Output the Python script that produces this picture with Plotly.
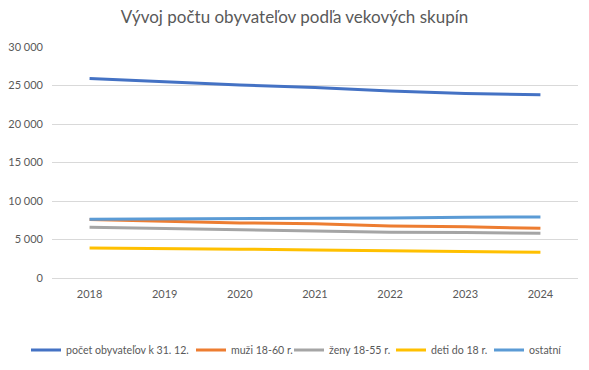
import plotly.graph_objects as go

years = ["2018", "2019", "2020", "2021", "2022", "2023", "2024"]
total = [25900, 25450, 25050, 24750, 24300, 23950, 23800]
muzi = [7600, 7400, 7150, 7050, 6750, 6650, 6450]
zeny = [6600, 6450, 6300, 6100, 5950, 5900, 5800]
deti = [3900, 3850, 3750, 3640, 3550, 3500, 3350]
ostatne = [7620, 7650, 7750, 7780, 7800, 7900, 7920]

names = ["počet obyvateľov k 31. 12.", "muži 18-60 r.", "ženy 18-55 r.", "deti do 18 r.", "ostatní"]
colors = ["#4472C4", "#ED7D31", "#A5A5A5", "#FFC000", "#5B9BD5"]
series = [total, muzi, zeny, deti, ostatne]
legend_ids = ["legend", "legend2", "legend3", "legend4", "legend5"]
legend_text_x = [62, 227, 325, 427, 525]  # where each legend label starts (px)

W, H = 589, 370
FONT = "Lato, Open Sans, sans-serif"

fig = go.Figure()
for n, c, s, lid in zip(names, colors, series, legend_ids):
    fig.add_trace(go.Scatter(x=years, y=s, name=n, mode="lines", legend=lid,
                             line=dict(color=c, width=3)))

legends = {}
for lid, tx in zip(legend_ids, legend_text_x):
    legends[lid] = dict(orientation="h", xref="container", yref="container",
                        x=(tx - 36) / W, xanchor="left", y=1 - 350 / H, yanchor="middle",
                        bgcolor="rgba(0,0,0,0)", borderwidth=0, itemwidth=30,
                        font=dict(family=FONT, size=10.6, color="#595959"))

fig.update_layout(
    width=W, height=H,
    margin=dict(l=52, r=11, t=47, b=92, autoexpand=False),
    paper_bgcolor="white", plot_bgcolor="white",
    font=dict(family=FONT, size=11, color="#595959"),
    title=dict(text="Vývoj počtu obyvateľov podľa vekových skupín", x=0.5, xanchor="center",
               xref="container", y=1 - 17 / H, yref="container", yanchor="middle",
               font=dict(family=FONT, size=17, color="#595959")),
    showlegend=True,
    xaxis=dict(type="category", range=[-0.5, 6.5], showgrid=False, showline=False,
               ticks="", ticklabelstandoff=8, tickfont=dict(size=11, color="#595959")),
    yaxis=dict(range=[0, 30000], tickvals=[0, 5000, 10000, 15000, 20000, 25000, 30000],
               ticktext=["0", "5 000", "10 000", "15 000", "20 000", "25 000", "30 000"],
               showgrid=True, gridcolor="#D9D9D9", gridwidth=1, zeroline=True,
               zerolinecolor="#D9D9D9", zerolinewidth=1, ticks="", ticklabelstandoff=8,
               tickfont=dict(size=11, color="#595959")),
    **legends,
)

fig.write_html("out.html", config={"displayModeBar": False},
               post_script="document.body.style.margin='0';document.body.style.padding='0';")
